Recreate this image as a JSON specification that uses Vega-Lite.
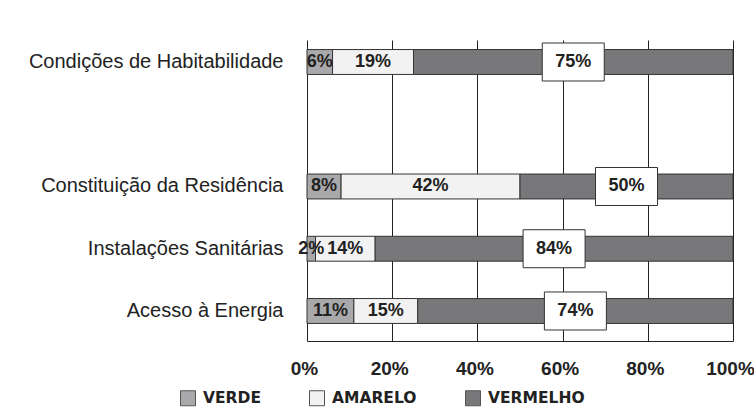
{
  "$schema": "https://vega.github.io/schema/vega-lite/v6.json",
  "width": 426,
  "height": 301,
  "autosize": {"type": "none"},
  "padding": {"left": 307, "top": 40, "right": 21, "bottom": 79},
  "background": "white",
  "config": {"view": {"stroke": null}, "font": "Liberation Sans"},
  "data": {
    "values": [
      {"cat": "Condições de Habitabilidade", "cor": "VERDE", "ordem": 1, "v": 0.06},
      {"cat": "Condições de Habitabilidade", "cor": "AMARELO", "ordem": 2, "v": 0.19},
      {"cat": "Condições de Habitabilidade", "cor": "VERMELHO", "ordem": 3, "v": 0.75},
      {"cat": "Constituição da Residência", "cor": "VERDE", "ordem": 1, "v": 0.08},
      {"cat": "Constituição da Residência", "cor": "AMARELO", "ordem": 2, "v": 0.42},
      {"cat": "Constituição da Residência", "cor": "VERMELHO", "ordem": 3, "v": 0.50},
      {"cat": "Instalações Sanitárias", "cor": "VERDE", "ordem": 1, "v": 0.02},
      {"cat": "Instalações Sanitárias", "cor": "AMARELO", "ordem": 2, "v": 0.14},
      {"cat": "Instalações Sanitárias", "cor": "VERMELHO", "ordem": 3, "v": 0.84},
      {"cat": "Acesso à Energia", "cor": "VERDE", "ordem": 1, "v": 0.11},
      {"cat": "Acesso à Energia", "cor": "AMARELO", "ordem": 2, "v": 0.15},
      {"cat": "Acesso à Energia", "cor": "VERMELHO", "ordem": 3, "v": 0.74}
    ]
  },
  "transform": [
    {"stack": "v", "groupby": ["cat"], "sort": [{"field": "ordem", "order": "ascending"}], "as": ["x0", "x1"], "offset": "normalize"}
  ],
  "encoding": {
    "y": {
      "field": "cat",
      "type": "nominal",
      "title": null,
      "scale": {
        "domain": ["Condições de Habitabilidade", " ", "Constituição da Residência", "Instalações Sanitárias", "Acesso à Energia"],
        "paddingInner": 0.6,
        "paddingOuter": 0.2177,
        "align": 0.352
      },
      "axis": {
        "domain": false,
        "ticks": false,
        "grid": false,
        "labelPadding": 24,
        "labelFont": "Liberation Sans",
        "labelFontSize": 20,
        "labelColor": "#222",
        "labelLimit": 400
      }
    }
  },
  "layer": [
    {
      "mark": {"type": "bar", "stroke": "#333", "strokeWidth": 1},
      "encoding": {
        "x": {
          "field": "x0",
          "type": "quantitative",
          "title": null,
          "scale": {"domain": [0, 1], "nice": false},
          "axis": {
            "format": ".0%",
            "values": [0, 0.2, 0.4, 0.6, 0.8, 1],
            "ticks": false,
            "domain": true,
            "domainColor": "#222",
            "domainWidth": 1,
            "grid": true,
            "gridColor": "#222",
            "gridOpacity": 1,
            "gridWidth": 1,
            "labelPadding": 18,
            "labelOffset": -3,
            "labelFont": "Liberation Sans",
            "labelFontWeight": "bold",
            "labelFontSize": 19,
            "labelColor": "#222",
            "labelFlush": false
          }
        },
        "x2": {"field": "x1"},
        "color": {
          "field": "cor",
          "type": "nominal",
          "scale": {"domain": ["VERDE", "AMARELO", "VERMELHO"], "range": ["#a9a9ab", "#f2f2f2", "#78787b"]},
          "legend": {
            "orient": "none",
            "legendX": -127,
            "legendY": 350,
            "direction": "horizontal",
            "title": null,
            "symbolType": "square",
            "symbolSize": 225,
            "symbolStrokeColor": "#555",
            "symbolStrokeWidth": 1,
            "labelFont": "DejaVu Sans",
            "labelFontWeight": "bold",
            "labelFontSize": 15.5,
            "labelColor": "#222",
            "columnPadding": 46,
            "labelOffset": 7
          }
        }
      }
    },
    {
      "transform": [
        {"fold": ["x0", "x1"], "as": ["lado", "pos"]},
        {"aggregate": [{"op": "mean", "field": "pos", "as": "meio"}], "groupby": ["cat", "cor", "v"]}
      ],
      "layer": [
        {
          "transform": [{"filter": "datum.cor === 'VERMELHO'"}],
          "mark": {
            "type": "point",
            "shape": "M-1,-0.613L1,-0.613L1,0.613L-1,0.613Z",
            "size": 3844,
            "filled": true,
            "fill": "white",
            "stroke": "#333",
            "strokeWidth": 1,
            "opacity": 1
          },
          "encoding": {
            "x": {"field": "meio", "type": "quantitative"}
          }
        },
        {
          "mark": {"type": "text", "font": "Liberation Sans", "fontWeight": "bold", "fontSize": 18, "color": "#222", "baseline": "middle"},
          "encoding": {
            "x": {"field": "meio", "type": "quantitative"},
            "text": {"field": "v", "type": "quantitative", "format": ".0%"}
          }
        }
      ]
    }
  ]
}
